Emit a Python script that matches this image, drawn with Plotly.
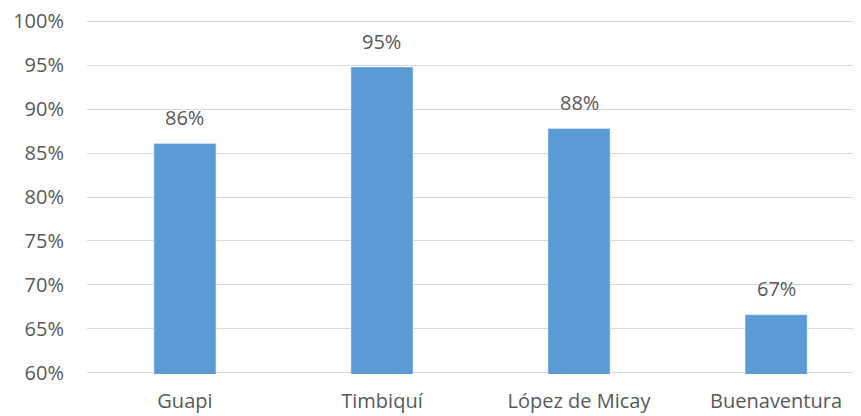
import plotly.graph_objects as go

municipios = ["Guapi", "Timbiquí", "López de Micay", "Buenaventura"]
porcentajes = [86.1, 94.8, 87.8, 66.6]
etiquetas = ["{}%".format(round(p)) for p in porcentajes]
marcas_y = [60, 65, 70, 75, 80, 85, 90, 95, 100]
textos_y = ["60%", "65%", "70%", "75%", "80%", "85%", "90%", "95%", "100%"]

gris = "#595959"
fuente = "Open Sans"

fig = go.Figure()
fig.add_trace(go.Bar(x=municipios, y=porcentajes, marker_color="#5b9bd5",
                     width=0.315, hoverinfo="skip"))

for m, p, e in zip(municipios, porcentajes, etiquetas):
    fig.add_annotation(x=m, y=p, text=e, showarrow=False, yanchor="middle",
                       yshift=26, font=dict(family=fuente, size=20, color=gris))

# the page body adds an 8px margin, so the margins are shifted to compensate
fig.update_layout(
    width=861, height=416,
    margin=dict(l=79, r=8, t=12, b=50),
    plot_bgcolor="white", paper_bgcolor="white",
    showlegend=False,
    font=dict(family=fuente, size=20, color=gris),
)
fig.update_xaxes(range=[-0.497, 3.431], showgrid=False, showline=False,
                 ticks="", ticklabelstandoff=13, automargin=False,
                 ticklabeloverflow="allow")
# range padded slightly so the 60% and 100% gridlines are not clipped
fig.update_yaxes(range=[59.85, 100.15], tickvals=marcas_y, ticktext=textos_y,
                 showgrid=True, gridcolor="#d9d9d9", gridwidth=1,
                 zeroline=False, showline=False, ticklabelstandoff=22,
                 automargin=False, ticklabeloverflow="allow")

fig.write_html("out.html")
